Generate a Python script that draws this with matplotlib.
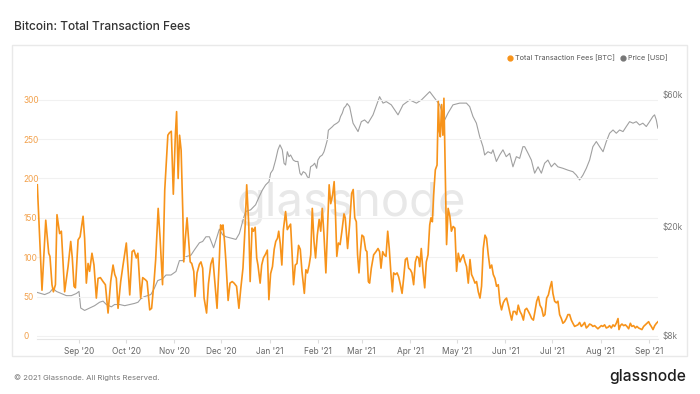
import matplotlib.pyplot as plt
import matplotlib.dates as mdates
import numpy as np
import pandas as pd
from matplotlib.lines import Line2D
from matplotlib.patches import Rectangle
from matplotlib.ticker import FixedLocator, NullLocator

plt.rcParams["font.family"] = ["Inter", "DejaVu Sans"]

START = pd.Timestamp("2020-08-05")

# Total transaction fees [BTC] (days after START)
fee_day = [
    0.2, 3.2, 5.6, 7.5, 8.3, 9.6, 10.5, 11.8, 12.8, 14.5,
    15.6, 17.7, 19.9, 21.6, 22.6, 23.7, 24.6, 26.3, 27.6, 29.5,
    30.5, 31.6, 32.7, 33.7, 35.2, 36.5, 38.0, 39.1, 40.6, 42.3,
    43.8, 45.5, 47.2, 48.7, 49.8, 50.8, 51.9, 53.6, 55.1, 57.2,
    58.3, 59.4, 60.9, 62.1, 63.6, 64.6, 66.4, 67.7, 69.6, 70.5,
    72.2, 73.4, 75.0, 76.0, 77.6, 78.8, 80.4, 81.8, 83.8, 84.8,
    86.0, 87.3, 88.6, 89.4, 90.4, 91.3, 92.3, 93.4, 94.0, 95.0,
    96.1, 97.0, 98.1, 99.1, 100.4, 101.2, 102.5, 104.0, 105.0, 106.1,
    107.0, 108.6, 109.8, 111.3, 112.6, 114.0, 115.3, 116.8, 117.6, 118.4,
    119.1, 120.1, 121.0, 122.4, 123.6, 125.0, 126.2, 127.8, 129.3, 130.5,
    131.9, 133.3, 134.3, 135.6, 136.5, 137.7, 138.6, 139.7, 140.7, 141.5,
    142.9, 143.9, 145.0, 146.4, 147.5, 148.5, 149.6, 150.8, 151.9, 152.9,
    154.0, 154.8, 155.8, 156.8, 157.8, 159.2, 160.3, 161.4, 162.4, 163.3,
    164.3, 165.4, 166.5, 167.5, 168.6, 169.7, 171.2, 172.2, 173.2, 174.3,
    175.3, 176.3, 177.4, 178.4, 179.5, 180.7, 181.7, 182.7, 183.8, 185.0,
    186.0, 187.1, 188.1, 189.3, 190.3, 191.1, 192.0, 193.0, 194.1, 195.2,
    196.6, 197.4, 198.9, 200.2, 201.5, 202.5, 203.5, 204.5, 205.3, 206.2,
    207.1, 208.1, 209.2, 210.5, 211.3, 212.2, 213.0, 214.1, 215.6, 217.1,
    218.4, 219.4, 220.3, 221.4, 222.4, 223.5, 224.6, 225.6, 226.7, 227.6,
    228.4, 229.5, 230.6, 231.6, 232.7, 233.8, 234.8, 235.9, 237.0, 238.0,
    239.1, 240.1, 241.2, 242.3, 243.3, 244.4, 245.1, 246.1, 247.2, 248.3,
    249.3, 250.4, 251.5, 252.3, 253.2, 254.0, 255.1, 256.2, 257.0, 257.7,
    258.3, 259.1, 259.9, 260.6, 261.4, 262.3, 263.3, 264.4, 265.4, 266.5,
    267.6, 268.7, 269.8, 270.9, 271.9, 273.0, 274.1, 275.1, 276.2, 277.3,
    278.3, 279.4, 280.5, 281.5, 282.6, 283.7, 284.7, 285.8, 286.9, 287.9,
    289.0, 290.1, 291.2, 292.2, 293.3, 294.3, 295.4, 296.5, 297.5, 298.6,
    299.7, 300.7, 301.8, 302.9, 304.0, 305.0, 306.1, 307.2, 308.2, 309.3,
    310.4, 311.5, 312.5, 313.6, 314.7, 315.7, 316.8, 317.9, 318.9, 320.0,
    321.1, 322.1, 323.2, 324.3, 325.3, 326.4, 327.5, 328.5, 329.6, 330.4,
    331.5, 332.6, 333.6, 334.7, 335.8, 336.8, 337.9, 339.0, 340.0, 341.1,
    342.2, 343.2, 344.3, 345.4, 346.4, 347.5, 348.6, 349.6, 350.7, 351.8,
    352.8, 353.9, 355.0, 356.0, 357.1, 358.2, 359.2, 360.3, 361.4, 362.4,
    363.5, 364.6, 365.7, 366.7, 367.8, 368.9, 369.9, 371.0, 372.1, 372.7,
    373.6, 374.6, 375.7, 376.8, 377.8, 378.9, 380.0, 381.0, 382.1, 383.2,
    384.2, 385.3, 386.4, 387.4, 388.5, 389.6, 390.7, 391.7, 392.4, 393.4,
    394.5, 395.6, 396.7, 397.7,
]
fee_btc = [
    192, 58, 147, 105, 101, 65, 56, 65, 154, 130,
    133, 56, 88, 120, 99, 63, 61, 122, 126, 152,
    124, 67, 92, 82, 105, 90, 48, 73, 74, 69,
    65, 29, 69, 90, 78, 73, 35, 69, 90, 118,
    86, 52, 107, 109, 99, 105, 48, 74, 71, 69,
    33, 35, 70, 97, 162, 125, 65, 185, 255, 258,
    260, 180, 255, 285, 200, 255, 236, 155, 94, 124,
    150, 124, 94, 92, 82, 50, 80, 91, 94, 86,
    48, 29, 66, 91, 99, 65, 35, 99, 141, 135,
    141, 120, 94, 45, 67, 69, 67, 63, 35, 60,
    86, 140, 192, 142, 69, 137, 133, 138, 99, 90,
    67, 90, 99, 104, 109, 46, 79, 88, 110, 120,
    124, 133, 117, 90, 135, 158, 135, 139, 142, 107,
    65, 90, 92, 115, 110, 82, 54, 84, 80, 90,
    103, 162, 120, 99, 128, 148, 133, 162, 128, 80,
    133, 192, 168, 179, 196, 158, 101, 118, 116, 132,
    155, 150, 111, 141, 181, 186, 150, 145, 103, 80,
    107, 128, 126, 109, 107, 69, 67, 86, 103, 107,
    111, 107, 86, 107, 103, 101, 133, 111, 78, 56,
    80, 78, 80, 75, 65, 54, 73, 97, 99, 86,
    84, 80, 65, 94, 101, 99, 88, 111, 82, 61,
    94, 103, 141, 150, 145, 179, 211, 217, 298, 260,
    253, 294, 255, 302, 217, 116, 162, 152, 133, 139,
    137, 82, 105, 94, 99, 103, 94, 88, 67, 97,
    78, 73, 67, 69, 56, 48, 63, 111, 128, 124,
    103, 86, 90, 78, 73, 63, 65, 42, 33, 42,
    46, 48, 39, 29, 20, 31, 31, 27, 39, 31,
    27, 20, 33, 35, 31, 27, 22, 20, 31, 44,
    50, 39, 35, 25, 27, 48, 52, 61, 69, 54,
    44, 42, 44, 27, 22, 16, 18, 22, 27, 27,
    20, 16, 12, 13, 14, 17, 12, 14, 17, 10,
    12, 15, 14, 12, 13, 11, 9, 11, 13, 12,
    14, 10, 11, 13, 10, 14, 12, 16, 22, 8,
    13, 15, 13, 14, 12, 9, 16, 12, 13, 10,
    12, 10, 9, 8, 12, 14, 16, 18, 15, 12,
    8, 13, 16, 18,
]

# Price [USD thousands]
price_day = [
    0.2, 4.9, 8.1, 10.3, 12.4, 15.6, 18.8, 22.0, 25.2, 26.9,
    28.0, 30.5, 33.7, 36.9, 40.1, 42.3, 44.4, 47.6, 49.7, 52.9,
    56.2, 59.4, 62.6, 64.7, 66.4, 68.7, 72.9, 75.1, 77.3, 80.5,
    82.6, 85.8, 89.0, 91.2, 93.3, 95.4, 98.6, 100.8, 104.0, 106.1,
    108.2, 110.4, 113.1, 115.7, 116.8, 118.9, 121.0, 124.3, 127.4, 129.6,
    132.3, 133.6, 136.8, 140.0, 142.2, 144.3, 146.4, 148.6, 149.6, 151.1,
    152.8, 154.3, 155.6, 157.1, 158.2, 159.2, 160.3, 161.4, 162.4, 164.1,
    165.6, 167.1, 168.4, 169.3, 170.5, 172.0, 173.1, 174.2, 175.2, 176.9,
    177.8, 179.1, 179.9, 181.2, 182.7, 183.8, 184.8, 185.9, 186.6, 187.6,
    189.1, 190.2, 192.3, 193.4, 194.4, 195.5, 196.6, 197.7, 198.6, 200.2,
    202.4, 205.6, 207.7, 209.8, 212.0, 215.2, 219.4, 221.6, 223.7, 226.9,
    231.2, 234.4, 238.7, 243.0, 246.2, 249.4, 251.5, 254.7, 257.9, 261.1,
    263.2, 266.4, 270.7, 275.0, 277.1, 279.2, 281.4, 283.5, 285.6, 286.7,
    288.8, 291.0, 292.0, 294.2, 296.3, 298.4, 300.5, 302.7, 304.8, 307.0,
    309.1, 311.2, 312.3, 314.5, 316.6, 318.7, 320.9, 323.0, 325.1, 327.2,
    329.4, 331.5, 333.6, 336.8, 340.0, 343.2, 345.4, 347.5, 349.6, 351.8,
    353.9, 356.0, 358.2, 360.3, 362.5, 364.6, 366.7, 368.9, 371.0, 373.1,
    375.3, 377.4, 379.5, 381.7, 383.8, 385.9, 388.0, 390.2, 392.3, 394.4,
    395.5, 396.6, 397.6,
]
price_k = [
    11.5, 11.3, 11.5, 11.9, 11.6, 11.4, 11.2, 11.2, 11.4, 11.6,
    10.1, 9.9, 10.1, 10.3, 10.6, 10.7, 10.4, 10.2, 10.4, 10.4,
    10.3, 10.4, 10.5, 10.6, 10.9, 11.1, 11.3, 11.9, 12.7, 12.9,
    13.3, 13.3, 13.7, 15.0, 15.0, 15.5, 15.7, 16.4, 17.4, 17.6,
    18.3, 18.3, 16.7, 18.6, 19.5, 18.6, 18.3, 18.1, 17.9, 18.8,
    21.4, 22.6, 22.9, 23.9, 25.5, 27.0, 28.2, 29.0, 31.1, 32.0,
    34.7, 37.8, 39.4, 37.8, 33.8, 33.3, 37.2, 35.7, 36.2, 34.7,
    34.3, 34.3, 31.1, 30.6, 31.5, 31.1, 30.2, 29.8, 32.8, 33.3,
    33.8, 32.4, 34.7, 35.7, 36.2, 37.2, 38.9, 41.0, 44.5, 45.0,
    45.8, 46.5, 47.3, 47.9, 49.9, 51.3, 53.6, 54.4, 55.6, 54.2,
    47.2, 44.0, 47.8, 48.5, 47.2, 50.6, 58.9, 55.8, 56.5, 55.0,
    50.6, 55.0, 57.3, 55.8, 57.3, 59.7, 61.4, 58.1, 55.0, 48.5,
    51.3, 55.0, 55.8, 55.8, 54.2, 49.9, 47.2, 42.2, 38.8, 36.2,
    37.2, 36.7, 37.8, 34.3, 36.2, 37.8, 35.7, 36.7, 32.8, 35.7,
    35.2, 38.8, 38.8, 36.7, 34.7, 31.1, 32.8, 31.1, 33.8, 34.7,
    32.8, 33.8, 32.8, 32.4, 31.9, 31.5, 30.6, 29.4, 30.6, 32.4,
    34.7, 38.8, 40.5, 38.8, 37.2, 40.5, 43.4, 44.6, 43.4, 44.6,
    44.0, 45.9, 47.8, 47.2, 47.8, 46.5, 47.2, 45.9, 47.8, 49.9,
    50.6, 48.5, 45.3,
]

fee_ticks = [0, 50, 100, 150, 200, 250, 300]
price_ticks = [8000, 20000, 60000]
price_labels = ["$8k", "$20k", "$60k"]

ORANGE = "#f7931a"
GREY = "#a0a0a0"

fee_dates = START + pd.to_timedelta(fee_day, unit="D")
price_dates = START + pd.to_timedelta(price_day, unit="D")
price_usd = np.array(price_k) * 1000

fig = plt.figure(figsize=(7, 3.94), dpi=100)

# card frame
fig.add_artist(Rectangle((12 / 700, 1 - 356 / 394), 675 / 700, 311 / 394,
                         transform=fig.transFigure, fill=False,
                         edgecolor="#e9e9e9", linewidth=1, zorder=-5))

fig.text(14 / 700, 1 - 27 / 394, "Bitcoin: Total Transaction Fees",
         fontsize=8.6, color="#333333", fontweight="medium", va="center")
fig.text(14 / 700, 1 - 378 / 394, "\u00a9 2021 Glassnode. All Rights Reserved.",
         fontsize=5.6, color="#777777", va="center")
fig.text(686 / 700, 1 - 377 / 394, "glassnode", fontsize=11.2,
         color="#1e1e1e", fontweight="medium", ha="right", va="center")

# watermark
fig.text(351 / 700, 1 - 204 / 394, "glassnode", fontsize=34, color="#e8e8e8",
         ha="center", va="center", zorder=-4)

# legend
ly = 1 - 58 / 394
fig.add_artist(Line2D([510 / 700], [ly], transform=fig.transFigure,
                      marker="o", markersize=3.5, color=ORANGE, linestyle=""))
fig.text(515 / 700, ly, "Total Transaction Fees [BTC]", fontsize=5.2,
         color="#555555", va="center")
fig.add_artist(Line2D([623 / 700], [ly], transform=fig.transFigure,
                      marker="o", markersize=3.5, color="#777777", linestyle=""))
fig.text(628 / 700, ly, "Price [USD]", fontsize=5.2, color="#555555", va="center")

ax = fig.add_axes([37 / 700, 1 - 339 / 394, 621 / 700, 251 / 394])
ax2 = ax.twinx()
ax.set_zorder(ax2.get_zorder() + 1)
ax.patch.set_visible(False)

ax2.plot(price_dates, price_usd, color=GREY, linewidth=0.8)
ax2.set_yscale("log")
ax2.set_ylim(7800, 63300)
ax2.yaxis.set_major_locator(FixedLocator(price_ticks))
ax2.yaxis.set_minor_locator(NullLocator())
ax2.set_yticklabels(price_labels)
ax2.tick_params(axis="y", length=0, pad=3, labelsize=6, labelcolor="#777777")

ax.plot(fee_dates, fee_btc, color=ORANGE, linewidth=1.2, solid_joinstyle="round")
ax.set_ylim(-4, 315)
ax.set_yticks(fee_ticks)
ax.tick_params(axis="y", length=0, pad=10, labelsize=6, labelcolor="#f2a04a")
for lab in ax.get_yticklabels():
    lab.set_horizontalalignment("left")
ax.grid(axis="y", color="#f1f1f1", linewidth=0.8)
ax.set_axisbelow(True)

ax.set_xlim(START, START + pd.Timedelta(days=397.7))
ax.xaxis.set_major_locator(mdates.MonthLocator())
ax.xaxis.set_major_formatter(mdates.DateFormatter("%b '%y"))
ax.tick_params(axis="x", length=3, color="#dddddd", pad=3, labelsize=6,
               labelcolor="#666666")
# hide the Aug '20 tick that falls before the first label
for tick in ax.xaxis.get_major_ticks():
    d = mdates.num2date(tick.get_loc())
    if d.year == 2020 and d.month == 8:
        tick.set_visible(False)

for a in (ax, ax2):
    for side in ("top", "left", "right"):
        a.spines[side].set_visible(False)
    a.spines["bottom"].set_color("#e6e6e6")
ax2.spines["bottom"].set_visible(False)

fig.savefig("out.png", dpi=100)
